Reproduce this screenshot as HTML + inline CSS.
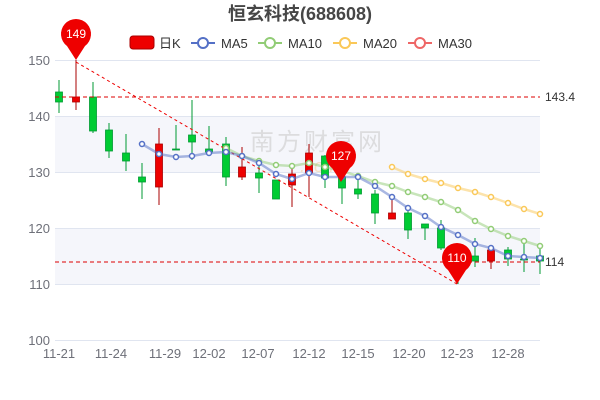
<!DOCTYPE html>
<html><head><meta charset="utf-8"><style>
html,body{margin:0;padding:0;background:#fff;}
svg{display:block;font-family:"Liberation Sans","Noto Sans CJK SC",sans-serif;}
</style></head><body>
<svg id="s" width="600" height="400" viewBox="0 0 600 400" xmlns="http://www.w3.org/2000/svg">
<rect x="55" y="116" width="485" height="56" fill="#f5f6fb"/>
<rect x="55" y="228" width="485" height="56" fill="#f5f6fb"/>
<g stroke="#e0e5f0" stroke-width="1">
<line x1="55" y1="60.5" x2="540" y2="60.5"/><line x1="55" y1="116.5" x2="540" y2="116.5"/>
<line x1="55" y1="172.5" x2="540" y2="172.5"/><line x1="55" y1="228.5" x2="540" y2="228.5"/>
<line x1="55" y1="284.5" x2="540" y2="284.5"/><line x1="55" y1="340.5" x2="540" y2="340.5"/>
</g>
<g font-size="13" fill="#6e7079" text-anchor="end">
<text x="50" y="65">150</text><text x="50" y="121">140</text><text x="50" y="177">130</text>
<text x="50" y="233">120</text><text x="50" y="289">110</text><text x="50" y="345">100</text>
</g>
<g font-size="13" fill="#6e7079" text-anchor="middle">
<text x="59" y="358">11-21</text><text x="111" y="358">11-24</text><text x="165" y="358">11-29</text>
<text x="209" y="358">12-02</text><text x="258" y="358">12-07</text><text x="309" y="358">12-12</text>
<text x="358" y="358">12-15</text><text x="409" y="358">12-20</text><text x="457" y="358">12-23</text>
<text x="508" y="358">12-28</text>
</g>
<text x="250" y="150" font-size="24" fill="#ccc" opacity="0.6" letter-spacing="3">南方财富网</text>
<text x="300" y="172" font-size="18" fill="#f6c98a" opacity="0.5" font-style="italic">.com</text>
<text x="300" y="20" font-size="18" font-weight="bold" fill="#464646" text-anchor="middle">恒玄科技(688608)</text>
<g font-size="13" fill="#333">
<rect x="130" y="36" width="24" height="13" rx="3" fill="#e00" stroke="#a00"/>
<text x="159" y="48">日K</text>
<line x1="191" y1="43" x2="215" y2="43" stroke="#5470c6" stroke-width="2"/><circle cx="203" cy="43" r="5" fill="#fff" stroke="#5470c6" stroke-width="2"/>
<text x="221" y="48">MA5</text>
<line x1="258" y1="43" x2="282" y2="43" stroke="#91cc75" stroke-width="2"/><circle cx="270" cy="43" r="5" fill="#fff" stroke="#91cc75" stroke-width="2"/>
<text x="288" y="48">MA10</text>
<line x1="333" y1="43" x2="357" y2="43" stroke="#fac858" stroke-width="2"/><circle cx="345" cy="43" r="5" fill="#fff" stroke="#fac858" stroke-width="2"/>
<text x="363" y="48">MA20</text>
<line x1="408" y1="43" x2="432" y2="43" stroke="#ee6666" stroke-width="2"/><circle cx="420" cy="43" r="5" fill="#fff" stroke="#ee6666" stroke-width="2"/>
<text x="438" y="48">MA30</text>
</g>
<g id="c"></g>
<line x1="55" y1="97" x2="540" y2="97" stroke="#d00" stroke-dasharray="4,3"/>
<line x1="55" y1="262" x2="540" y2="262" stroke="#d00" stroke-dasharray="4,3"/>
<line x1="76" y1="62" x2="457" y2="284" stroke="#e00" stroke-dasharray="3,3"/>
<text x="545" y="101" font-size="12" fill="#333">143.4</text>
<text x="545" y="266" font-size="12" fill="#333">114</text>
<g id="m"></g>
</svg>
<script>
var X=[59,76,93,109,126,142,159,176,192,209,226,242,259,276,292,309,325,342,358,375,392,408,425,441,458,475,491,508,524,540];
// [bodyTop,bodyBot,wickTop,wickBot,up(red)]
var C=[[92,102,80,113,0],[97,102,60,110,1],[97,131,82,133,0],[130,151,123,158,0],[153,161,134,171,0],
[177,182,163,199,0],[144,187,128,205,1],[149,150,125,150,0],[135,142,100,160,0],[149,152,126,152,0],
[144,177,137,186,0],[167,177,147,180,1],[173,178,163,193,0],[180,199,180,199,0],[174,185,168,207,1],
[153,173,144,197,1],[156,178,155,188,0],[177,188,160,204,0],[189,194,180,199,0],[194,213,190,224,0],
[213,219,199,219,1],[213,230,210,239,0],[224,228,224,240,0],[228,248,220,250,0],[256,262,248,284,0],
[256,261,238,267,0],[250,261,245,269,1],[250,259,247,266,0],[259,260,240,272,0],[256,261,245,274,0]];
var h='';
C.forEach(function(c,i){var col=c[4]?'#e00':'#0c3';var st=c[4]?'#a00':'#093';
h+='<line x1="'+X[i]+'" y1="'+c[2]+'" x2="'+X[i]+'" y2="'+c[3]+'" stroke="'+st+'" stroke-width="1"/>';
h+='<rect x="'+(X[i]-3.5)+'" y="'+c[0]+'" width="7" height="'+Math.max(1,c[1]-c[0])+'" fill="'+col+'" stroke="'+st+'" stroke-width="0.8"/>';});
document.getElementById('c').innerHTML=h;
function ma(start,ys,color){var p=ys.map(function(y,k){return X[start+k]+','+y}).join(' ');
var s='<polyline points="'+p+'" fill="none" stroke="'+color+'" stroke-width="2.5" opacity="0.5"/>';
ys.forEach(function(y,k){s+='<circle cx="'+X[start+k]+'" cy="'+y+'" r="2.5" fill="#fff" stroke="'+color+'" stroke-width="1.5"/>';});return s;}
var m='';
m+=ma(20,[167,174,179,183,188,192,197,203,209,214],'#fac858');
m+=ma(10,[148,156,161,165,166,163,167,171,176,182,186,192,197,202,210,221,229,236,241,246],'#91cc75');
m+=ma(5,[144,154,157,156,153,152,156,163,174,179,173,177,177,177,186,197,208,216,227,235,244,248,256,257,258],'#5470c6');
function pin(x,y,t){return '<path d="M'+x+' '+y+' L'+(x-9)+' '+(y-14)+' A15 15 0 1 1 '+(x+9)+' '+(y-14)+' Z" fill="#e00"/><text x="'+x+'" y="'+(y-22)+'" font-size="12" fill="#fff" text-anchor="middle">'+t+'</text>';}
m+=pin(76,60,'149')+pin(341,182,'127')+pin(457,284,'110');
document.getElementById('m').innerHTML=m;
</script>
</body></html>
